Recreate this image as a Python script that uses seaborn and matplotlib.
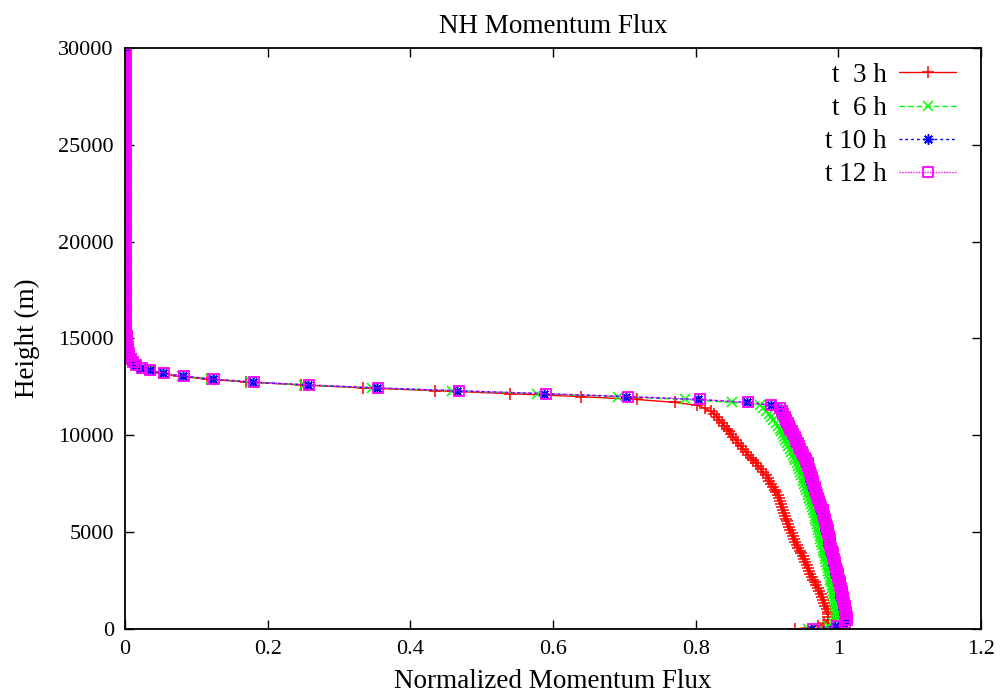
import numpy as np
import pandas as pd
import matplotlib
matplotlib.use("Agg")
import matplotlib.pyplot as plt
import seaborn as sns

# Model levels: 0 .. 30000 m every 150 m
heights = np.arange(0, 30001, 150)

# Normalized momentum flux, levels 0 .. 14850 m (first 100 levels)
flux_3h = [
    0.940, 0.972, 0.980, 0.985, 0.986, 0.986, 0.985, 0.984, 0.982, 0.980,
    0.978, 0.977, 0.976, 0.973, 0.971, 0.969, 0.967, 0.965, 0.963, 0.961,
    0.959, 0.957, 0.956, 0.954, 0.952, 0.950, 0.948, 0.946, 0.944, 0.942,
    0.940, 0.938, 0.937, 0.935, 0.933, 0.931, 0.930, 0.928, 0.927, 0.926,
    0.924, 0.923, 0.921, 0.920, 0.919, 0.917, 0.916, 0.913, 0.911, 0.908,
    0.906, 0.903, 0.901, 0.898, 0.894, 0.891, 0.888, 0.885, 0.881, 0.877,
    0.874, 0.870, 0.867, 0.863, 0.860, 0.856, 0.853, 0.850, 0.847, 0.844,
    0.840, 0.837, 0.833, 0.830, 0.826, 0.821, 0.813, 0.802, 0.771, 0.718,
    0.639, 0.540, 0.435, 0.334, 0.247, 0.170, 0.115, 0.076, 0.050, 0.032,
    0.021, 0.014, 0.010, 0.007, 0.005, 0.004, 0.003, 0.003, 0.003, 0.002,
]
flux_6h = [
    0.958, 0.985, 0.993, 0.997, 0.998, 0.998, 0.998, 0.997, 0.996, 0.995,
    0.995, 0.994, 0.993, 0.992, 0.991, 0.991, 0.990, 0.989, 0.988, 0.987,
    0.986, 0.985, 0.984, 0.983, 0.982, 0.981, 0.980, 0.979, 0.978, 0.977,
    0.976, 0.975, 0.974, 0.973, 0.972, 0.971, 0.970, 0.969, 0.968, 0.967,
    0.966, 0.964, 0.963, 0.962, 0.961, 0.959, 0.958, 0.957, 0.955, 0.954,
    0.952, 0.951, 0.950, 0.948, 0.947, 0.945, 0.944, 0.942, 0.940, 0.938,
    0.936, 0.934, 0.932, 0.930, 0.928, 0.926, 0.924, 0.922, 0.920, 0.918,
    0.915, 0.912, 0.909, 0.906, 0.903, 0.899, 0.895, 0.890, 0.851, 0.785,
    0.691, 0.578, 0.458, 0.346, 0.251, 0.176, 0.121, 0.080, 0.053, 0.034,
    0.023, 0.015, 0.011, 0.008, 0.006, 0.005, 0.004, 0.003, 0.003, 0.003,
]
flux_10h = [
    0.962, 0.996, 1.006, 1.009, 1.009, 1.008, 1.008, 1.007, 1.006, 1.005,
    1.004, 1.003, 1.002, 1.002, 1.001, 1.000, 0.999, 0.998, 0.997, 0.996,
    0.995, 0.994, 0.993, 0.992, 0.991, 0.990, 0.989, 0.988, 0.987, 0.986,
    0.986, 0.985, 0.984, 0.983, 0.982, 0.981, 0.980, 0.979, 0.978, 0.977,
    0.976, 0.975, 0.973, 0.972, 0.970, 0.969, 0.967, 0.966, 0.965, 0.964,
    0.962, 0.961, 0.960, 0.959, 0.957, 0.956, 0.955, 0.954, 0.952, 0.950,
    0.948, 0.946, 0.944, 0.942, 0.940, 0.938, 0.936, 0.934, 0.932, 0.930,
    0.928, 0.926, 0.924, 0.922, 0.920, 0.918, 0.916, 0.905, 0.872, 0.804,
    0.703, 0.588, 0.466, 0.353, 0.257, 0.180, 0.124, 0.082, 0.054, 0.035,
    0.023, 0.016, 0.011, 0.008, 0.006, 0.005, 0.004, 0.003, 0.003, 0.003,
]
flux_12h = [
    0.965, 0.998, 1.009, 1.012, 1.012, 1.011, 1.011, 1.010, 1.009, 1.008,
    1.007, 1.006, 1.005, 1.005, 1.004, 1.003, 1.002, 1.001, 1.000, 0.999,
    0.998, 0.997, 0.996, 0.995, 0.994, 0.993, 0.992, 0.991, 0.990, 0.989,
    0.989, 0.988, 0.987, 0.986, 0.985, 0.984, 0.983, 0.982, 0.981, 0.980,
    0.979, 0.978, 0.976, 0.975, 0.973, 0.972, 0.970, 0.969, 0.968, 0.967,
    0.965, 0.964, 0.963, 0.962, 0.960, 0.959, 0.958, 0.957, 0.955, 0.953,
    0.951, 0.949, 0.947, 0.945, 0.943, 0.941, 0.939, 0.937, 0.935, 0.933,
    0.931, 0.929, 0.927, 0.925, 0.923, 0.921, 0.918, 0.906, 0.873, 0.806,
    0.705, 0.590, 0.468, 0.355, 0.258, 0.181, 0.125, 0.083, 0.055, 0.035,
    0.024, 0.016, 0.011, 0.008, 0.006, 0.005, 0.004, 0.004, 0.003, 0.003,
]
# Levels 15000 .. 30000 m, where all four profiles coincide
flux_aloft = [
    0.003, 0.003, 0.002, 0.002, 0.002, 0.002, 0.002, 0.002, 0.002, 0.002,
    0.002, 0.002, 0.002, 0.002, 0.002, 0.002, 0.002, 0.002, 0.002, 0.002,
    0.001, 0.001, 0.001, 0.001, 0.001, 0.001, 0.001, 0.001, 0.001, 0.001,
    0.001, 0.001, 0.001, 0.001, 0.001, 0.001, 0.001, 0.001, 0.001, 0.001,
    0.001, 0.001, 0.001, 0.001, 0.001, 0.001, 0.001, 0.001, 0.001, 0.001,
    0.001, 0.001, 0.001, 0.001, 0.001, 0.001, 0.001, 0.001, 0.001, 0.001,
    0.001, 0.001, 0.001, 0.001, 0.001, 0.001, 0.001, 0.001, 0.001, 0.001,
    0.001, 0.001, 0.001, 0.001, 0.001, 0.001, 0.001, 0.001, 0.001, 0.001,
    0.001, 0.001, 0.001, 0.001, 0.001, 0.001, 0.001, 0.001, 0.001, 0.001,
    0.001, 0.001, 0.001, 0.001, 0.001, 0.001, 0.001, 0.001, 0.001, 0.001,
    0.001,
]

series_labels = ["t  3 h", "t  6 h", "t 10 h", "t 12 h"]
series_flux = [flux_3h, flux_6h, flux_10h, flux_12h]

x_ticks = [0, 0.2, 0.4, 0.6, 0.8, 1.0, 1.2]
x_tick_labels = ["0", "0.2", "0.4", "0.6", "0.8", "1", "1.2"]
y_ticks = [0, 5000, 10000, 15000, 20000, 25000, 30000]
y_tick_labels = ["0", "5000", "10000", "15000", "20000", "25000", "30000"]

frames = []
for lab, low in zip(series_labels, series_flux):
    frames.append(pd.DataFrame({
        "series": lab,
        "flux": np.concatenate([low, flux_aloft]),
        "height": heights,
    }))
df = pd.concat(frames, ignore_index=True)

sns.set_style("ticks")
plt.rcParams["font.family"] = ["Liberation Serif", "DejaVu Serif"]
plt.rcParams["lines.scale_dashes"] = False
plt.rcParams["text.color"] = "black"
plt.rcParams["axes.labelcolor"] = "black"
plt.rcParams["xtick.color"] = "black"
plt.rcParams["ytick.color"] = "black"

styles = {
    "t  3 h": dict(color="#ff0000", marker="+", ms=8.0, mfc="#ff0000", mew=1.1, dashes=None),
    "t  6 h": dict(color="#00ff00", marker="x", ms=6.5, mfc="#00ff00", mew=1.1, dashes=(4.0, 2.2)),
    "t 10 h": dict(color="#0000ff", marker=(8, 2, 0), ms=7.5, mfc="#0000ff", mew=1.1, dashes=(2.0, 2.2)),
    "t 12 h": dict(color="#ff00ff", marker="s", ms=7.2, mfc="none", mew=1.3, dashes=(1.0, 1.0)),
}

fig = plt.figure(figsize=(10.03, 6.97), dpi=100)
ax = fig.add_axes([0.1246, 0.0976, 0.8534, 0.8335])

for lab in series_labels:
    st = styles[lab]
    sub = df[df["series"] == lab]
    sns.lineplot(
        data=sub, x="flux", y="height", ax=ax, sort=False, estimator=None,
        orient="y", color=st["color"], marker=st["marker"],
        markersize=st["ms"], markeredgecolor=st["color"],
        markerfacecolor=st["mfc"], markeredgewidth=st["mew"], linewidth=1.0,
        label=lab,
    )
    line = ax.lines[-1]
    if st["dashes"] is not None:
        line.set_dashes(st["dashes"])

ax.set_xlim(0, 1.2)
ax.set_ylim(0, 30000)
ax.set_xticks(x_ticks)
ax.set_xticklabels(x_tick_labels)
ax.set_yticks(y_ticks)
ax.set_yticklabels(y_tick_labels)
ax.tick_params(direction="in", top=True, right=True, length=6.5, width=1.0,
               labelsize=16, pad=8, colors="black")
for sp in ax.spines.values():
    sp.set_visible(True)
    sp.set_linewidth(1.3)
    sp.set_color("black")

ax.set_title("NH Momentum Flux", fontsize=19.5, pad=11, color="black")
ax.set_xlabel("Normalized Momentum Flux", fontsize=19.5, labelpad=7)
ax.set_ylabel("Height (m)", fontsize=19.5, labelpad=13)

handles, labels = ax.get_legend_handles_labels()
ax.legend(handles, labels, loc="upper right", bbox_to_anchor=(0.9883, 1.0),
          frameon=False, markerfirst=False,
          fontsize=19.5, handlelength=2.1, handletextpad=0.45,
          labelspacing=0.3, borderaxespad=0.15, numpoints=1)

fig.savefig("out.png", dpi=100)
